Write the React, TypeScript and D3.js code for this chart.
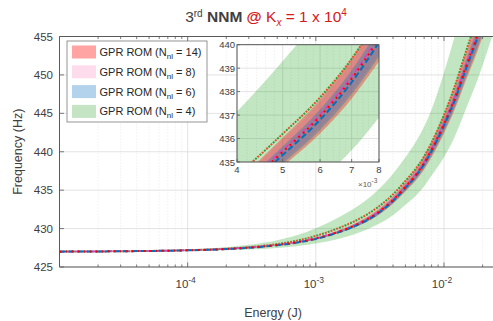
import React from 'react';
import * as d3 from 'd3';

// ---- data ----
const energy = [1e-5, 3e-5, 1e-4, 2e-4, 3e-4, 5e-4, 7e-4, 1e-3, 1.5e-3, 2e-3, 3e-3, 4e-3, 5e-3, 6e-3, 7e-3, 8e-3, 1e-2, 1.2e-2, 1.5e-2, 1.84e-2, 2.2e-2, 2.6e-2];
const meanN6 = [427.0, 427.05, 427.17, 427.33, 427.5, 427.83, 428.15, 428.65, 429.5, 430.3, 431.9, 433.6, 435.3, 436.8, 438.4, 440.1, 443.4, 446.5, 451.0, 455.0, 459.0, 463.0];
const meanN14 = [427.0, 427.05, 427.17, 427.34, 427.52, 427.86, 428.2, 428.7, 429.57, 430.38, 432.0, 433.72, 435.43, 436.95, 438.55, 440.27, 443.6, 446.75, 451.3, 455.35, 459.4, 463.45];
const meanN8 = [427.0, 427.06, 427.19, 427.36, 427.55, 427.9, 428.23, 428.75, 429.62, 430.43, 432.05, 433.77, 435.5, 437.02, 438.65, 440.37, 443.72, 446.85, 451.4, 455.45, 459.5, 463.6];
const meanN4 = [427.0, 427.05, 427.19, 427.38, 427.58, 427.98, 428.4, 429.05, 430.05, 430.95, 432.7, 434.45, 436.2, 437.75, 439.4, 441.2, 444.8, 448.3, 453.3, 457.8, 462.3, 466.8];
const hw14 = [0.01, 0.01, 0.02, 0.03, 0.04, 0.06, 0.09, 0.12, 0.19, 0.25, 0.37, 0.49, 0.61, 0.73, 0.85, 0.98, 1.23, 1.46, 1.8, 2.1, 2.4, 2.7];
const hw8 = [0.01, 0.01, 0.01, 0.02, 0.03, 0.05, 0.06, 0.09, 0.14, 0.18, 0.27, 0.36, 0.45, 0.53, 0.62, 0.72, 0.9, 1.07, 1.32, 1.54, 1.76, 2.0];
const hw6 = [0.01, 0.01, 0.01, 0.02, 0.03, 0.04, 0.05, 0.08, 0.12, 0.16, 0.23, 0.3, 0.37, 0.44, 0.51, 0.6, 0.75, 0.9, 1.1, 1.3, 1.5, 1.7];
const hw4 = [0.02, 0.04, 0.1, 0.2, 0.3, 0.5, 0.7, 1.0, 1.4, 1.7, 2.2, 2.7, 3.1, 3.5, 3.9, 4.3, 5.5, 6.5, 7.5, 8.3, 9.0, 9.7];

const legendLabels = ['14', '8', '6', '4'];
const yTicks = [425, 430, 435, 440, 445, 450, 455];
const xMajor = [1e-4, 1e-3, 1e-2];
const xMajorExp = ['-4', '-3', '-2'];
const insetXTicks = [4, 5, 6, 7, 8];
const insetYTicks = [435, 436, 437, 438, 439, 440];

const W = 493, H = 321;
const FONT = 'Liberation Sans, Arial, sans-serif';
const bandColors = {
  g: 'rgba(0,150,0,0.24)',
  r: 'rgba(255,0,0,0.34)',
  p: 'rgba(255,60,160,0.16)',
  b: 'rgba(0,114,189,0.32)',
};
const legendSwatch = ['#ffa3a3', '#ffdcec', '#b3d3ec', '#c4e4c4'];

type Band = { mean: number[]; hw: number[]; color: string };
const bands: Band[] = [
  { mean: meanN4, hw: hw4, color: bandColors.g },
  { mean: meanN14, hw: hw14, color: bandColors.r },
  { mean: meanN8, hw: hw8, color: bandColors.p },
  { mean: meanN6, hw: hw6, color: bandColors.b },
];

function Plot({ x, y, lw, clip }: { x: any; y: any; lw: number; clip: string }) {
  const idx = energy.map((_, i) => i);
  const area = (b: Band) =>
    d3.area<number>()
      .x((i) => x(energy[i]))
      .y0((i) => y(b.mean[i] - b.hw[i]))
      .y1((i) => y(b.mean[i] + b.hw[i]))
      .curve(d3.curveMonotoneX)(idx) as string;
  const line = (m: number[]) =>
    d3.line<number>().x((i) => x(energy[i])).y((i) => y(m[i])).curve(d3.curveMonotoneX)(idx) as string;
  return (
    <g clipPath={`url(#${clip})`}>
      {bands.map((b, k) => (
        <path key={k} d={area(b)} fill={b.color} stroke="none" />
      ))}
      <path d={line(meanN4)} fill="none" stroke="#3a9a3a" strokeWidth={lw} strokeDasharray="2,4" />
      <path d={line(meanN4)} fill="none" stroke="#e8502a" strokeWidth={lw} strokeDasharray="2,4" strokeDashoffset={3} />
      <path d={line(meanN8)} fill="none" stroke="#e040c0" strokeWidth={lw * 0.8} strokeDasharray="5,3" />
      <path d={line(meanN6)} fill="none" stroke="#0072bd" strokeWidth={lw} strokeDasharray="6,3" />
      <path d={line(meanN14)} fill="none" stroke="#ff0000" strokeWidth={lw} strokeDasharray="2,4" />
    </g>
  );
}

export default function App() {
  const L = 59.5, T = 36.5, B = 267;
  const x = d3.scaleLog().domain([1e-5, 1e-2]).range([L, 444]);
  const y = d3.scaleLinear().domain([425, 455]).range([B, T]);
  const R = 496;

  const minorX: number[] = [];
  for (let e = -5; e <= -2; e++) for (let m = 2; m <= 9; m++) {
    const v = m * Math.pow(10, e);
    if (x(v) < R) minorX.push(v);
  }

  // inset
  const iL = 237, iR = 379, iT = 44.7, iB = 162;
  const xi = d3.scaleLog().domain([4e-3, 8e-3]).range([iL, iR]);
  const yi = d3.scaleLinear().domain([435, 440]).range([iB, iT]);
  const insetMinor: number[] = [];
  for (let v = 4.2; v < 8; v += 0.2) {
    if (Math.abs(v - Math.round(v)) > 0.05) insetMinor.push(v * 1e-3);
  }

  const gridMajor = '#dcdcdc';
  const gridMinor = '#e4e4e4';
  const axisCol = '#5a5a5a';
  const textCol = '#404040';

  return (
    <svg width={W} height={H} style={{ position: 'absolute', left: 0, top: 0, background: '#fff' }} fontFamily={FONT}>
      <defs>
        <clipPath id="mainclip"><rect x={L} y={T} width={R - L} height={B - T} /></clipPath>
        <clipPath id="insetclip"><rect x={iL} y={iT} width={iR - iL} height={iB - iT} /></clipPath>
      </defs>
      <rect x={0} y={0} width={W} height={H} fill="#fff" />

      {/* main grid */}
      {minorX.map((v, i) => (
        <line key={'mg' + i} x1={x(v)} x2={x(v)} y1={T} y2={B} stroke={gridMinor} strokeWidth={0.8} strokeDasharray="1,2" />
      ))}
      {xMajor.map((v, i) => (
        <line key={'Mg' + i} x1={x(v)} x2={x(v)} y1={T} y2={B} stroke={gridMajor} strokeWidth={0.8} />
      ))}
      {yTicks.map((v, i) => (
        <line key={'yg' + i} x1={L} x2={R} y1={y(v)} y2={y(v)} stroke={gridMajor} strokeWidth={0.8} />
      ))}

      <Plot x={x} y={y} lw={2} clip="mainclip" />

      {/* main axes */}
      <line x1={L} x2={R} y1={B} y2={B} stroke={axisCol} strokeWidth={1} />
      <line x1={L} x2={R} y1={T} y2={T} stroke={axisCol} strokeWidth={1} />
      <line x1={L} x2={L} y1={T} y2={B} stroke={axisCol} strokeWidth={1} />
      {minorX.map((v, i) => (
        <g key={'mt' + i}>
          <line x1={x(v)} x2={x(v)} y1={B} y2={B - 2.5} stroke={axisCol} strokeWidth={0.8} />
          <line x1={x(v)} x2={x(v)} y1={T} y2={T + 2.5} stroke={axisCol} strokeWidth={0.8} />
        </g>
      ))}
      {xMajor.map((v, i) => (
        <g key={'Mt' + i}>
          <line x1={x(v)} x2={x(v)} y1={B} y2={B - 4.5} stroke={axisCol} strokeWidth={0.8} />
          <line x1={x(v)} x2={x(v)} y1={T} y2={T + 4.5} stroke={axisCol} strokeWidth={0.8} />
          <text x={x(v) - 2} y={288} fontSize={11.5} fill={textCol} textAnchor="middle">
            10<tspan dy={-5} fontSize={8.5}>{xMajorExp[i]}</tspan>
          </text>
        </g>
      ))}
      {yTicks.map((v, i) => (
        <g key={'yt' + i}>
          <line x1={L} x2={L + 4.5} y1={y(v)} y2={y(v)} stroke={axisCol} strokeWidth={0.8} />
          <text x={53} y={y(v) + 4} fontSize={11.5} fill={textCol} textAnchor="end">{v}</text>
        </g>
      ))}
      <text x={273} y={317} fontSize={12.5} fill={textCol} textAnchor="middle">Energy (J)</text>
      <text transform={`translate(22,${(T + B) / 2}) rotate(-90)`} fontSize={12.5} fill={textCol} textAnchor="middle">Frequency (Hz)</text>

      {/* title */}
      <text x={266} y={22} fontSize={15.5} textAnchor="middle" fill="#404040">
        3<tspan dy={-5} fontSize={10}>rd</tspan>
        <tspan dy={5} fontWeight="bold"> NNM </tspan>
        <tspan fill="#d41a1a" fontWeight="bold">@</tspan>
        <tspan fill="#d41a1a"> K</tspan>
        <tspan fill="#d41a1a" dy={4} fontSize={10} fontStyle="italic">x</tspan>
        <tspan fill="#d41a1a" dy={-4}> = 1 x 10</tspan>
        <tspan fill="#d41a1a" dy={-6} fontSize={10}>4</tspan>
      </text>

      {/* legend */}
      <rect x={67} y={41} width={140} height={81} fill="#fff" stroke="#7a7a7a" strokeWidth={0.8} />
      {legendLabels.map((lab, i) => (
        <g key={'lg' + i}>
          <rect x={72} y={45.5 + i * 19.8} width={24} height={13} fill={legendSwatch[i]} />
          <text x={99.5} y={56 + i * 19.8} fontSize={11} fill="#262626">
            GPR ROM (N<tspan dy={3} fontSize={8}>nl</tspan><tspan dy={-3}> = {lab})</tspan>
          </text>
        </g>
      ))}

      {/* inset */}
      <rect x={iL} y={iT} width={iR - iL} height={iB - iT} fill="#fff" />
      {insetMinor.map((v, i) => (
        <line key={'ig' + i} x1={xi(v)} x2={xi(v)} y1={iT} y2={iB} stroke={gridMinor} strokeWidth={0.8} strokeDasharray="1,2" />
      ))}
      {insetXTicks.map((v, i) => (
        <line key={'iG' + i} x1={xi(v * 1e-3)} x2={xi(v * 1e-3)} y1={iT} y2={iB} stroke={gridMajor} strokeWidth={0.8} />
      ))}
      {insetYTicks.map((v, i) => (
        <line key={'iY' + i} x1={iL} x2={iR} y1={yi(v)} y2={yi(v)} stroke={gridMajor} strokeWidth={0.8} />
      ))}
      <Plot x={xi} y={yi} lw={2} clip="insetclip" />
      <rect x={iL} y={iT} width={iR - iL} height={iB - iT} fill="none" stroke="#4a4a4a" strokeWidth={0.9} />
      {insetXTicks.map((v, i) => (
        <g key={'ixt' + i}>
          <line x1={xi(v * 1e-3)} x2={xi(v * 1e-3)} y1={iB} y2={iB - 3} stroke={axisCol} strokeWidth={0.8} />
          <text x={xi(v * 1e-3)} y={iB + 11} fontSize={9.5} fill={textCol} textAnchor="middle">{v}</text>
        </g>
      ))}
      {insetYTicks.map((v, i) => (
        <g key={'iyt' + i}>
          <line x1={iL} x2={iL + 3} y1={yi(v)} y2={yi(v)} stroke={axisCol} strokeWidth={0.8} />
          <text x={iL - 2} y={yi(v) + 3.5} fontSize={9.5} fill={textCol} textAnchor="end">{v}</text>
        </g>
      ))}
      <text x={358} y={187} fontSize={8} fill="#606060">
        ×10<tspan dy={-4} fontSize={6.5}>-3</tspan>
      </text>
    </svg>
  );
}
